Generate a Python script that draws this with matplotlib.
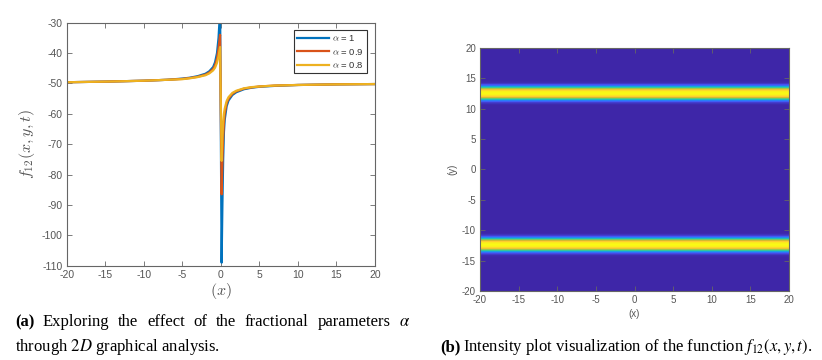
import numpy as np
import matplotlib
matplotlib.use('Agg')
import matplotlib.pyplot as plt
from matplotlib.colors import LinearSegmentedColormap

plt.rcParams['axes.unicode_minus'] = False

# ---------------- data ----------------
x_vals = [-20, -15, -10, -7, -5, -4, -3, -2, -1.5, -1, -0.75, -0.5, -0.3, -0.2, -0.1,
          0.1, 0.2, 0.3, 0.4, 0.5, 0.75, 1, 1.5, 2, 3, 4, 5, 7, 10, 15, 20]
f_alpha_1 = [-49.6, -49.4, -49.1, -48.8, -48.4, -48.1, -47.6, -46.8, -46.0, -44.6, -43.0, -40.0, -35.0, -30.5, -24.0,
             -109.0, -90.0, -75.0, -66.0, -62.0, -57.5, -55.6, -53.8, -52.9, -51.9, -51.4, -51.1, -50.8, -50.5, -50.3, -50.2]
f_alpha_09 = [-49.6, -49.4, -49.1, -48.8, -48.5, -48.2, -47.8, -47.1, -46.4, -45.2, -44.0, -41.8, -38.5, -36.2, -34.0,
              -86.5, -76.0, -68.0, -63.0, -60.0, -56.5, -55.0, -53.4, -52.6, -51.7, -51.3, -51.0, -50.7, -50.5, -50.3, -50.2]
f_alpha_08 = [-49.6, -49.4, -49.1, -48.8, -48.6, -48.3, -47.9, -47.3, -46.7, -45.7, -44.8, -43.2, -41.0, -39.5, -38.0,
              -75.5, -68.0, -63.0, -60.0, -58.3, -55.8, -54.5, -53.1, -52.4, -51.6, -51.2, -51.0, -50.7, -50.5, -50.3, -50.2]
alpha_labels = ['1', '0.9', '0.8']

x_ticks = [-20, -15, -10, -5, 0, 5, 10, 15, 20]
y_ticks_left = [-110, -100, -90, -80, -70, -60, -50, -40, -30]
y_ticks_right = [-20, -15, -10, -5, 0, 5, 10, 15, 20]

# intensity plot: field constant in x, two bands in y
band_centers = [12.5, -12.4]
band_offsets = [-2.1, -1.8, -1.5, -1.2, -0.9, -0.6, -0.3, 0.0, 0.3, 0.6, 0.9, 1.2, 1.5, 1.8, 2.1]
band_intensity = [0.0, 0.01, 0.07, 0.25, 0.55, 0.85, 0.97, 1.0, 0.97, 0.85, 0.55, 0.25, 0.07, 0.01, 0.0]

# ---------------- styling ----------------
colors = ['#0072BD', '#D95319', '#EDB120']
parula = LinearSegmentedColormap.from_list('parula', [
    (0.00, (0.2422, 0.1504, 0.6603)),
    (0.12, (0.2810, 0.3228, 0.9579)),
    (0.25, (0.1540, 0.5000, 0.9700)),
    (0.37, (0.0689, 0.6948, 0.8394)),
    (0.50, (0.2161, 0.7843, 0.5923)),
    (0.62, (0.5044, 0.7993, 0.3480)),
    (0.75, (0.8185, 0.7327, 0.1882)),
    (0.87, (0.9956, 0.7862, 0.1892)),
    (1.00, (0.9769, 0.9839, 0.0805)),
])
tick_color = '#555555'
spine_color = '#666666'
sans = 'Liberation Sans'
serif = 'Liberation Serif'

W, H = 822, 360
fig = plt.figure(figsize=(W / 100, H / 100), dpi=100)


def style_axes(ax, size):
    for s in ax.spines.values():
        s.set_color(spine_color)
        s.set_linewidth(0.8)
    ax.tick_params(direction='in', length=3.5, width=0.6, color=spine_color,
                   top=True, right=True, labelsize=size, labelcolor=tick_color, pad=3)
    for lab in ax.get_xticklabels() + ax.get_yticklabels():
        lab.set_fontfamily(sans)


# ---------------- left plot ----------------
ax1 = fig.add_axes([66.7 / W, 1 - 265.7 / H, (375 - 66.7) / W, (265.7 - 22.7) / H])
for ys, c, lab in zip([f_alpha_1, f_alpha_09, f_alpha_08], colors, alpha_labels):
    ax1.plot(x_vals, ys, color=c, lw=1.6, label=r'$\alpha$ = ' + lab)
ax1.set_xlim(-20, 20)
ax1.set_ylim(-110, -30)
ax1.set_xticks(x_ticks)
ax1.set_yticks(y_ticks_left)
style_axes(ax1, 7.5)
ax1.set_xlabel(r'$(x)$', fontsize=11.5, color=tick_color, math_fontfamily='cm', labelpad=1)
ax1.set_ylabel(r'$f_{12}(x,y,t)$', fontsize=11.5, color=tick_color, math_fontfamily='cm', labelpad=3)
leg = ax1.legend(loc='upper right', bbox_to_anchor=(0.974, 0.97), borderaxespad=0,
                 fancybox=False, framealpha=1, edgecolor='#333333',
                 prop={'family': sans, 'size': 6.8, 'math_fontfamily': 'cm'},
                 handlelength=3.4, handletextpad=0.3, borderpad=0.35, labelspacing=0.35)
leg.get_frame().set_linewidth(0.8)
for t in leg.get_texts():
    t.set_color('#333333')

# ---------------- right plot ----------------
ax2 = fig.add_axes([480 / W, 1 - 291 / H, (789 - 480) / W, (291 - 47.7) / H])
y_grid = np.linspace(-20, 20, 1601)
field_1d = np.zeros_like(y_grid)
for yc in band_centers:
    field_1d += np.interp(y_grid - yc, band_offsets, band_intensity)
x_grid = np.array(x_ticks[:1] + x_ticks[-1:], dtype=float)
Z = np.repeat(field_1d[:, None], 2, axis=1)
ax2.pcolormesh(x_grid, y_grid, Z[:-1, :-1], cmap=parula, vmin=0, vmax=1, shading='flat')
ax2.set_xlim(-20, 20)
ax2.set_ylim(-20, 20)
ax2.set_xticks(x_ticks)
ax2.set_yticks(y_ticks_right)
style_axes(ax2, 7)
ax2.set_xlabel('(x)', fontsize=7, color=tick_color, fontfamily=sans, labelpad=3)
ax2.set_ylabel('(y)', fontsize=7, color=tick_color, fontfamily=sans, labelpad=3)

# ---------------- captions ----------------
fs = 12
fig.canvas.draw()
r = fig.canvas.get_renderer()


def justified(words, weights, x0, x1, ybase):
    texts = []
    for w, wt in zip(words, weights):
        texts.append(fig.text(0, 1 - ybase / H, w, fontsize=fs, fontfamily=serif, fontweight=wt,
                              va='baseline', ha='left', math_fontfamily='stix'))
    widths = [t.get_window_extent(r).width for t in texts]
    gap = (x1 - x0 - sum(widths)) / (len(texts) - 1)
    pos = x0
    for t, w in zip(texts, widths):
        t.set_x(pos / W)
        pos += w + gap


line1 = ['(a)', 'Exploring', 'the', 'effect', 'of', 'the', 'fractional', 'parameters', r'$\alpha$']
justified(line1, ['bold'] + ['normal'] * 8, 15, 410, 326)

fig.text(15 / W, 1 - 351 / H, r'through $2D$ graphical analysis.', fontsize=fs, fontfamily=serif,
         va='baseline', ha='left', math_fontfamily='stix')

tb = fig.text(440 / W, 1 - 351 / H, '(b)', fontsize=fs, fontfamily=serif, fontweight='bold',
              va='baseline', ha='left')
wb = tb.get_window_extent(r).width
fig.text((440 + wb + 3) / W, 1 - 351 / H,
         r'Intensity plot visualization of the function $f_{12}(x,y,t)$.',
         fontsize=fs, fontfamily=serif, va='baseline', ha='left', math_fontfamily='stix')

fig.savefig('out.png', dpi=100)
